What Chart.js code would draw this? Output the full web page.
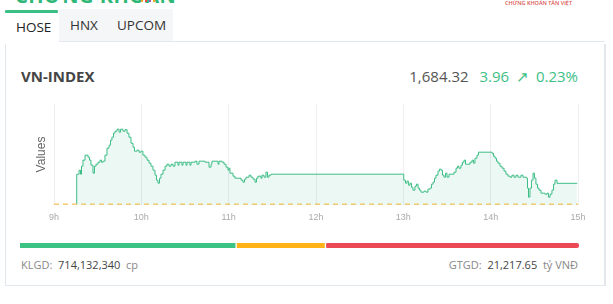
<!DOCTYPE html>
<html><head><meta charset="utf-8">
<script src="https://cdn.jsdelivr.net/npm/chart.js@4.4.1/dist/chart.umd.min.js"></script>
<style>
html,body{margin:0;padding:0;background:#fff;width:613px;height:304px;overflow:hidden;font-family:"Open Sans",sans-serif;}
.abs{position:absolute;white-space:nowrap;}
</style></head><body>
<div class="abs" style="left:15px;top:-14px;font-size:20px;line-height:20px;font-weight:700;color:#2fb777;letter-spacing:0.5px;font-family:'Noto Sans',sans-serif;">CHỨNG KHOÁN</div>
<div class="abs" style="left:141px;top:-2px;width:2px;height:4px;background:#f5a623"></div>
<div class="abs" style="left:145px;top:-2px;width:2px;height:4px;background:#e94b4b"></div>
<div class="abs" style="left:149px;top:-2px;width:2px;height:4px;background:#9b59b6"></div>
<div class="abs" style="left:153px;top:-2px;width:2px;height:4px;background:#f5a623"></div>
<div class="abs" style="left:505px;top:-1px;font-size:5.5px;line-height:8px;color:#d9534f;font-weight:600;">CHỨNG KHOÁN TÂN VIỆT</div>
<div class="abs" style="left:5px;top:10px;width:53px;height:2.5px;background:#3cbf85;border-radius:1px;"></div>
<div class="abs" style="left:59px;top:9px;width:114px;height:32px;background:#f5f6f8;"></div>
<div class="abs" style="left:16px;top:17px;font-size:13.5px;line-height:20px;color:#222;">HOSE</div>
<div class="abs" style="left:70px;top:14.5px;font-size:13.5px;line-height:20px;color:#333;">HNX</div>
<div class="abs" style="left:117px;top:14.5px;font-size:13.5px;line-height:20px;color:#333;">UPCOM</div>
<div class="abs" style="left:59px;top:41px;width:546px;height:1px;background:#e3e8ee;"></div>
<div class="abs" style="left:5px;top:44px;width:598px;height:241px;border-left:1px solid #e3e8ee;border-right:2px solid #e3e8ee;border-bottom:1px solid #e3e8ee;"></div>
<div class="abs" style="left:21px;top:66px;font-size:15px;line-height:20px;font-weight:700;color:#454545;">VN-INDEX</div>
<div class="abs" style="right:35px;top:65.5px;font-size:15px;line-height:20px;color:#555;">1,684.32 <span style="color:#3dbf87;margin-left:7px;">3.96 <span style="margin:0 3px;">&#8599;</span> 0.23%</span></div>
<canvas id="c" width="613" height="135" class="abs" style="left:0;top:95px;"></canvas>
<canvas id="b" width="559" height="5" class="abs" style="left:20px;top:243px;"></canvas>
<div class="abs" style="left:21px;top:256px;font-size:11px;line-height:18px;color:#888;">KLGD:&nbsp; <span style="color:#444">714,132,340</span>&nbsp; cp</div>
<div class="abs" style="right:35px;top:256px;font-size:11px;line-height:18px;color:#888;">GTGD:&nbsp; <span style="color:#444">21,217.65</span>&nbsp; tỷ VNĐ</div>
<script>
// minutes after 09:00
const times = [15.6,15.6,17.2,18.2,18.9,19.9,21.3,23.4,24.4,25.4,26.8,27.8,28.9,30.2,31.6,32.6,33.7,35.0,36.4,37.8,38.8,39.8,40.9,41.9,43.3,44.7,45.7,47.4,48.8,50.2,51.5,52.9,54.3,55.3,57.0,58.4,59.8,61.1,62.5,63.9,65.3,66.6,68.0,69.4,70.4,71.4,72.5,73.5,74.9,76.3,77.6,79.0,80.4,81.8,83.1,85.2,85.9,87.9,88.6,90.7,91.4,93.4,94.1,96.9,98.2,99.6,103.7,106.5,107.9,108.5,112.7,113.4,115.4,116.8,118.2,119.5,120.2,120.9,123.0,124.3,128.5,129.8,130.9,131.9,134.0,135.3,136.7,138.1,139.1,140.1,142.2,142.9,144.3,145.6,146.7,147.7,149.1,
240.3,241.5,242.5,243.5,244.6,245.6,246.6,248.0,249.0,250.1,251.1,252.1,254.2,255.6,256.9,258.3,259.3,260.4,261.4,262.4,263.8,264.8,265.9,266.9,267.9,269.0,270.0,271.4,274.8,276.2,277.2,278.2,279.6,280.6,281.7,282.7,285.8,287.2,288.2,289.2,290.6,291.6,300.9,301.9,303.0,304.0,305.0,306.4,307.8,309.2,310.5,311.9,313.3,314.6,316.0,317.4,318.8,320.8,322.2,324.6,325.3,326.0,327.0,328.0,329.1,330.1,331.1,332.2,333.2,334.6,337.3,338.7,339.7,340.8,342.1,343.2,344.2,345.6,359.5];
const values = [1680.36,1686.06,1686.82,1686.06,1687.58,1688.72,1689.67,1689.29,1688.72,1687.77,1686.25,1687.58,1687.96,1688.34,1688.72,1688.34,1688.53,1689.67,1691.00,1691.57,1692.52,1693.09,1693.85,1694.23,1694.61,1694.04,1694.61,1694.23,1694.52,1693.85,1693.09,1691.95,1691.19,1690.43,1690.62,1690.24,1690.43,1689.67,1689.29,1688.72,1688.15,1687.58,1686.82,1685.87,1684.92,1684.35,1685.30,1686.06,1686.82,1687.58,1687.96,1687.58,1687.96,1687.58,1688.34,1687.77,1688.34,1687.77,1688.34,1687.77,1688.34,1687.77,1688.34,1688.53,1687.96,1688.53,1688.34,1687.39,1687.96,1688.53,1687.96,1688.53,1688.34,1687.96,1687.39,1686.82,1687.20,1686.25,1685.68,1685.30,1684.92,1684.54,1685.11,1685.49,1685.87,1685.49,1685.11,1684.54,1685.30,1685.68,1685.30,1685.87,1685.49,1686.44,1685.49,1685.87,1686.06,
1684.92,1684.35,1684.73,1683.97,1684.35,1683.59,1683.02,1683.78,1684.16,1683.40,1683.02,1682.64,1682.83,1682.64,1683.21,1683.40,1684.16,1684.54,1685.30,1685.87,1686.63,1687.01,1686.82,1685.87,1685.49,1686.25,1685.49,1686.06,1686.44,1687.20,1687.58,1687.20,1687.77,1688.34,1688.72,1687.96,1688.34,1688.72,1688.15,1689.10,1689.67,1690.24,1690.05,1689.48,1689.10,1688.53,1688.15,1687.58,1687.20,1686.63,1686.06,1685.68,1685.49,1685.87,1685.49,1685.87,1685.49,1685.87,1685.49,1685.30,1683.40,1681.69,1683.40,1684.92,1686.25,1685.30,1684.16,1683.40,1683.02,1682.45,1682.26,1682.45,1681.69,1682.26,1683.02,1684.16,1684.92,1684.32,1684.32];
const prevClose = 1680.36;
const tickMinutes = [0,60,120,180,240,300,360];
const tickLabels = ["9h","10h","11h","12h","13h","14h","15h"];
const breadthLabels = ["Tăng","Đứng giá","Giảm"];
const breadthValues = [150,62,176];

const pts = times.map((t,i)=>({x:t,y:values[i]}));
new Chart(document.getElementById('c'),{
  type:'line',
  data:{datasets:[
    {data:pts,borderColor:'#3dbd86',backgroundColor:'rgba(61,189,134,0.1)',borderWidth:1,pointRadius:0,stepped:true,fill:'start',order:1},
    {data:[{x:0,y:prevClose},{x:360,y:prevClose}],borderColor:'#f0b030',borderWidth:1,borderDash:[5,4],pointRadius:0,fill:false,order:0}
  ]},
  options:{
    responsive:false,animation:false,
    layout:{padding:{left:30,right:35,top:9,bottom:0}},
    plugins:{legend:{display:false},tooltip:{enabled:false}},
    scales:{
      x:{type:'linear',min:0,max:360,
        grid:{color:'#eeeeee',drawTicks:false},border:{display:false},
        afterBuildTicks:(s)=>{s.ticks=tickMinutes.map(v=>({value:v}));},
        afterFit:(s)=>{s.height=25;},
        ticks:{padding:7,color:'#aaaaaa',font:{size:9,family:'Liberation Sans'},maxRotation:0,
          callback:(v)=>{const i=tickMinutes.indexOf(v);return i>=0?tickLabels[i]:'';}}},
      y:{min:1680.2,max:1699.4,grid:{display:false},border:{display:false},
        ticks:{display:false},
        afterFit:(s)=>{s.width=24;},
        title:{display:true,text:'Values',color:'#666',font:{size:12,family:'Liberation Sans'},padding:{top:4,bottom:0}}}
    }
  }
});

const colors=['#3cc384','#ffb319','#eb4a55'];
new Chart(document.getElementById('b'),{
  type:'bar',
  data:{labels:[''],datasets:breadthValues.map((v,i)=>({label:breadthLabels[i],data:[v],backgroundColor:colors[i],
    borderColor:'#ffffff',borderWidth:{left:i>0?1:0,right:i<2?1:0,top:0,bottom:0},borderSkipped:false,borderRadius:2,
    barPercentage:1,categoryPercentage:1}))},
  options:{indexAxis:'y',responsive:false,animation:false,
    layout:{padding:0},
    plugins:{legend:{display:false},tooltip:{enabled:false}},
    scales:{x:{stacked:true,display:false,min:0,max:breadthValues.reduce((a,b)=>a+b,0)},y:{stacked:true,display:false}}}
});
</script>
</body></html>
